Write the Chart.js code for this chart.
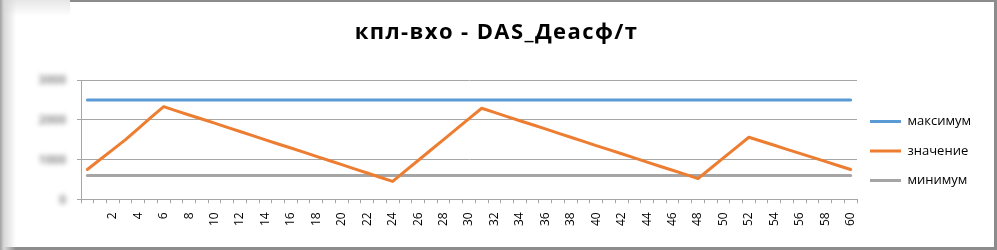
<!DOCTYPE html>
<html>
<head>
<meta charset="utf-8">
<script src="https://cdn.jsdelivr.net/npm/chart.js@4.4.1/dist/chart.umd.min.js"></script>
<style>
  html, body { margin: 0; padding: 0; background: #fff; }
  #wrap { position: relative; width: 997px; height: 250px; overflow: hidden; background: #fff; }
  #c { position: absolute; left: 0; top: 0; }
  .deco { position: absolute; pointer-events: none; }
</style>
</head>
<body>
<div id="wrap">
  <canvas id="c" width="997" height="250"></canvas>
  <div class="deco" style="left:70px;top:0;width:927px;height:2px;background:#8c8c8c;"></div>
  <div class="deco" style="left:0;top:0;width:70px;height:16px;background:linear-gradient(to bottom,#e6e6e6,rgba(255,255,255,0));"></div>
  <div class="deco" style="right:0;top:0;width:3px;height:250px;background:#8c8c8c;"></div>
  <div class="deco" style="left:0;bottom:0;width:997px;height:3px;background:#8c8c8c;"></div>
  <div class="deco" style="left:0;top:0;width:16px;height:250px;background:linear-gradient(to right,#a0a0a0,#d8d8d8 25%,rgba(255,255,255,0));"></div>
</div>
<script>
const chartTitle = 'кпл-вхо - DAS_Деасф/т';
const seriesNames = ['максимум', 'значение', 'минимум'];
const categories = [
  0, 1, 2, 3, 4, 5, 6, 7, 8, 9, 10, 11, 12, 13, 14, 15, 16, 17, 18, 19, 20,
  21, 22, 23, 24, 25, 26, 27, 28, 29, 30, 31, 32, 33, 34, 35, 36, 37, 38, 39, 40,
  41, 42, 43, 44, 45, 46, 47, 48, 49, 50, 51, 52, 53, 54, 55, 56, 57, 58, 59, 60
];
const maxValues = [
  2500, 2500, 2500, 2500, 2500, 2500, 2500, 2500, 2500, 2500, 2500,
  2500, 2500, 2500, 2500, 2500, 2500, 2500, 2500, 2500, 2500,
  2500, 2500, 2500, 2500, 2500, 2500, 2500, 2500, 2500, 2500,
  2500, 2500, 2500, 2500, 2500, 2500, 2500, 2500, 2500, 2500,
  2500, 2500, 2500, 2500, 2500, 2500, 2500, 2500, 2500, 2500,
  2500, 2500, 2500, 2500, 2500, 2500, 2500, 2500, 2500, 2500
];
const valueSeries = [
  750, 1000, 1250, 1500, 1780, 2060, 2330,
  2225, 2120, 2020, 1915, 1810, 1705, 1600, 1495, 1390, 1290, 1185, 1080, 975, 870, 765, 660, 555, 450,
  715, 975, 1240, 1500, 1765, 2030, 2290,
  2185, 2080, 1975, 1875, 1770, 1665, 1560, 1455, 1350, 1250, 1145, 1040, 935, 830, 730, 625, 520,
  780, 1040, 1300, 1560,
  1460, 1360, 1255, 1155, 1055, 955, 850, 750
];
const minValues = [
  600, 600, 600, 600, 600, 600, 600, 600, 600, 600, 600,
  600, 600, 600, 600, 600, 600, 600, 600, 600, 600,
  600, 600, 600, 600, 600, 600, 600, 600, 600, 600,
  600, 600, 600, 600, 600, 600, 600, 600, 600, 600,
  600, 600, 600, 600, 600, 600, 600, 600, 600, 600,
  600, 600, 600, 600, 600, 600, 600, 600, 600, 600
];
const yTickValues = [0, 1000, 2000, 3000];
const seriesColors = ['#5B9BD5', '#ED7D31', '#A5A5A5'];

const FONT = '"Open Sans", "Noto Sans", sans-serif';

const helperPlugin = {
  id: 'helperPlugin',
  afterInit(chart) {
    const lg = chart.legend;
    if (lg) {
      const origFit = lg.fit;
      lg.fit = function() {
        origFit.call(this);
        this.width = 136;
      };
      const origLgDraw = lg.draw;
      lg.draw = function() {
        const ctx = this.ctx;
        ctx.save();
        ctx.translate(-3.5, 0);
        origLgDraw.apply(this, arguments);
        ctx.restore();
      };
    }
    const tb = chart.titleBlock;
    if (tb) {
      const origDraw = tb.draw;
      tb.draw = function() {
        const ctx = this.ctx;
        ctx.save();
        ctx.letterSpacing = '1.4px';
        origDraw.apply(this, arguments);
        ctx.restore();
      };
    }
  },
  afterDraw(chart) {
    const ys = chart.scales.y;
    const ctx = chart.ctx;
    ctx.save();
    ctx.filter = 'blur(2.5px)';
    ctx.fillStyle = '#8f8f8f';
    ctx.font = 'bold 12px ' + FONT;
    ctx.textAlign = 'right';
    ctx.textBaseline = 'middle';
    yTickValues.forEach(v => {
      ctx.fillText(String(v), 66, ys.getPixelForValue(v) + 1);
    });
    ctx.restore();
  }
};

function ds(i, data) {
  return {
    label: seriesNames[i], data: data,
    borderColor: seriesColors[i], backgroundColor: seriesColors[i],
    pointBorderColor: seriesColors[i], pointBackgroundColor: seriesColors[i],
    pointBorderWidth: 3, borderWidth: 3
  };
}

new Chart(document.getElementById('c'), {
  type: 'line',
  data: {
    labels: categories,
    datasets: [ds(0, maxValues), ds(1, valueSeries), ds(2, minValues)]
  },
  options: {
    responsive: false,
    animation: false,
    devicePixelRatio: 1,
    elements: {
      line: { borderWidth: 3, tension: 0, borderCapStyle: 'round', borderJoinStyle: 'round' },
      point: { radius: 0, hoverRadius: 0 }
    },
    layout: { padding: { left: 0, right: 4, top: 0, bottom: 15 } },
    plugins: {
      tooltip: { enabled: false },
      title: {
        display: true,
        text: chartTitle,
        color: '#000',
        font: { family: FONT, size: 22, weight: 'bold', lineHeight: 1.2 },
        padding: { top: 20, bottom: 33.6 }
      },
      legend: {
        display: true,
        position: 'right',
        align: 'start',
        title: { display: true, text: ' ', font: { size: 10, lineHeight: 1.2 }, padding: { top: 3, bottom: 83.5 } },
        labels: {
          usePointStyle: true,
          pointStyle: 'line',
          pointStyleWidth: 31,
          boxHeight: 13,
          padding: 16.5,
          color: '#000',
          font: { family: FONT, size: 13 }
        }
      }
    },
    scales: {
      x: {
        type: 'category',
        offset: true,
        grid: {
          display: true,
          drawOnChartArea: false,
          drawTicks: true,
          tickLength: 4,
          offset: true,
          color: '#a6a6a6'
        },
        border: { display: true, color: '#a6a6a6', width: 1 },
        ticks: {
          autoSkip: false,
          maxRotation: 90,
          minRotation: 90,
          padding: 9,
          color: '#000',
          font: { family: FONT, size: 12 },
          callback: function(value, index) {
            const lab = this.getLabelForValue(value);
            return (index > 0 && index % 2 === 0) ? String(lab) : '';
          }
        }
      },
      y: {
        min: 0,
        max: 3000,
        afterFit(scale) { scale.width = 81; },
        grid: { color: '#a6a6a6', lineWidth: 1, drawTicks: true, tickLength: 4 },
        border: { display: true, color: '#a6a6a6', width: 1 },
        ticks: { display: false, stepSize: 1000 }
      }
    }
  },
  plugins: [helperPlugin]
});
</script>
</body>
</html>
